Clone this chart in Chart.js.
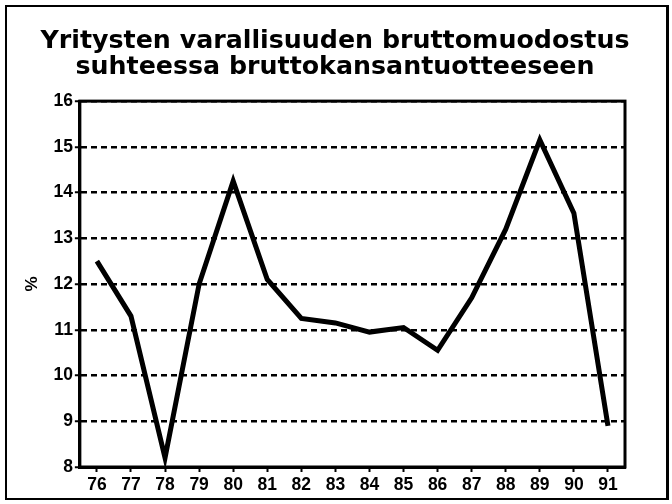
<!DOCTYPE html>
<html>
<head>
<meta charset="utf-8">
<script src="https://cdn.jsdelivr.net/npm/chart.js@4"></script>
<style>
  html, body { margin: 0; padding: 0; background: #fff; }
  #wrap { position: relative; width: 672px; height: 504px; }
  #frame { position: absolute; left: 5px; top: 5px; width: 664px; height: 495px; border: 2px solid #000; border-right-width: 3px; box-sizing: border-box; pointer-events: none; }
  canvas { position: absolute; left: 0; top: 0; }
</style>
</head>
<body>
<div id="wrap">
  <canvas id="chart" width="672" height="504"></canvas>
  <div id="frame"></div>
</div>
<script>
var years = ['76', '77', '78', '79', '80', '81', '82', '83', '84', '85', '86', '87', '88', '89', '90', '91'];
var share = [12.5, 11.3, 8.2, 12.0, 14.25, 12.1, 11.25, 11.15, 10.95, 11.05, 10.55, 11.7, 13.2, 15.15, 13.55, 8.9];
var yMin = 8;
var yMax = 16;
var titleLines = ['Yritysten varallisuuden bruttomuodostus', 'suhteessa bruttokansantuotteeseen'];

var fontName = "'Liberation Sans', Arial, sans-serif";

// solid box round the plot area (top and right edges)
var plotFrame = {
    id: 'plotFrame',
    beforeDatasetsDraw: function(chart) {
        var a = chart.chartArea;
        var ctx = chart.ctx;
        ctx.save();
        ctx.strokeStyle = '#000';
        ctx.lineWidth = 3;
        ctx.strokeRect(a.left, a.top, a.right - a.left, a.bottom - a.top);
        ctx.restore();
    }
};

var ctx = document.getElementById('chart').getContext('2d');
var chart = new Chart(ctx, {
    type: 'line',
    data: {
        labels: years,
        datasets: [{
            data: share,
            borderColor: '#000',
            borderWidth: 5,
            pointRadius: 0,
            tension: 0,
            borderJoinStyle: 'miter',
            fill: false
        }]
    },
    options: {
        responsive: false,
        animation: false,
        events: [],
        layout: { padding: { left: 22, right: 24, top: 28, bottom: 5 } },
        plugins: {
            legend: { display: false },
            tooltip: { enabled: false },
            title: {
                display: true,
                text: titleLines,
                color: '#000',
                font: { family: "'DejaVu Sans', sans-serif", size: 25.3, weight: 'bold', lineHeight: 1.03 },
                padding: { top: 0, bottom: 21 }
            }
        },
        scales: {
            x: {
                offset: true,
                grid: {
                    drawOnChartArea: false,
                    drawTicks: true,
                    tickLength: 5,
                    tickWidth: 2,
                    tickColor: '#000'
                },
                border: { display: true, color: '#000', width: 3 },
                ticks: {
                    color: '#000',
                    font: { family: fontName, size: 17.5, weight: 'bold' },
                    padding: 3,
                    maxRotation: 0,
                    autoSkip: false
                }
            },
            y: {
                min: yMin,
                max: yMax,
                grid: {
                    color: '#000',
                    lineWidth: 2.5,
                    tickLength: 5,
                    tickWidth: 2,
                    tickColor: '#000',
                    tickBorderDash: []
                },
                border: { display: true, color: '#000', width: 3, dash: [6, 4] },
                ticks: {
                    stepSize: 1,
                    color: '#000',
                    font: { family: fontName, size: 17.5, weight: 'bold' },
                    padding: 2
                },
                title: {
                    display: true,
                    text: '%',
                    color: '#000',
                    font: { family: fontName, size: 17, weight: 'bold' },
                    padding: { top: 0, bottom: 9 }
                }
            },
            // empty strip on the right so the title stays centred on the page
            yRight: {
                position: 'right',
                min: yMin,
                max: yMax,
                grid: { display: false },
                border: { display: false },
                ticks: { display: false },
                afterFit: function(scale) { scale.width = 23; }
            }
        }
    },
    plugins: [plotFrame]
});
</script>
</body>
</html>
